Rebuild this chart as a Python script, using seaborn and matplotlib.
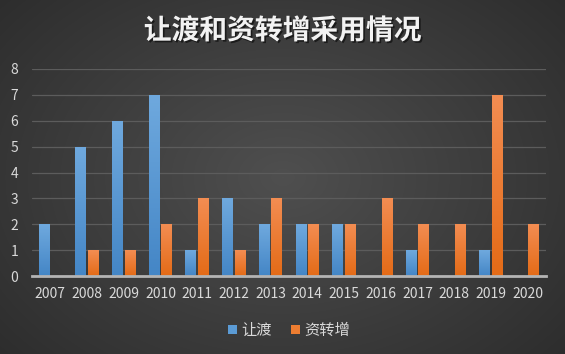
import numpy as np
import pandas as pd
import matplotlib
matplotlib.use("Agg")
import matplotlib.pyplot as plt
import matplotlib.patheffects as pe
import seaborn as sns
from matplotlib.colors import to_rgb

years = ["2007", "2008", "2009", "2010", "2011", "2012", "2013",
         "2014", "2015", "2016", "2017", "2018", "2019", "2020"]
rangdu = [2, 5, 6, 7, 1, 3, 2, 2, 2, 0, 1, 0, 1, 0]
zizhuan = [0, 1, 1, 2, 3, 1, 3, 2, 2, 3, 2, 2, 7, 2]
series_names = ["让渡", "资转增"]
title = "让渡和资转增采用情况"

df = pd.DataFrame({
    "year": years * 2,
    "value": rangdu + zizhuan,
    "series": [series_names[0]] * len(years) + [series_names[1]] * len(years),
})

sns.set_theme(style="dark")
plt.rcParams["font.family"] = ["Noto Sans CJK SC", "DejaVu Sans"]
plt.rcParams["patch.edgecolor"] = "none"

W, H = 565, 354
fig = plt.figure(figsize=(W / 100, H / 100), dpi=100)

# radial gradient background
bg = fig.add_axes([0, 0, 1, 1], zorder=-10)
yy, xx = np.mgrid[0:H, 0:W]
r = np.sqrt(((xx - W * 0.5) / (W * 0.65)) ** 2 + ((yy - H * 0.5) / (H * 0.75)) ** 2)
v = np.clip(0.31 - 0.13 * r, 0.15, 0.32)
bg.imshow(np.dstack([v, v, v]), aspect="auto", extent=[0, 1, 0, 1])
bg.axis("off")

ax = fig.add_axes([32 / W, 1 - 276 / H, (546 - 32) / W, (276 - 69) / H])
ax.set_facecolor("none")

palette = {series_names[0]: "#5b9bd5", series_names[1]: "#ed7d31"}
sns.barplot(data=df, x="year", y="value", hue="series", palette=palette,
            width=0.68, gap=0.12, ax=ax, saturation=1, legend=True,
            linewidth=0, edgecolor="none")

# gradients on bars
grads = {series_names[0]: ("#6fa9de", "#4486c6"), series_names[1]: ("#f38d52", "#e46b17")}
for container, name in zip(ax.containers, series_names):
    top, bot = (np.array(to_rgb(c)) for c in grads[name])
    for bar in container:
        hgt = bar.get_height()
        if hgt <= 0:
            bar.set_visible(False)
            continue
        t = np.linspace(0, 1, 64)[:, None]
        img = (top * (1 - t) + bot * t)[:, None, :]
        x0 = bar.get_x()
        im = ax.imshow(img, extent=[x0, x0 + bar.get_width(), 0, hgt],
                       aspect="auto", zorder=bar.get_zorder() + 0.1, origin="upper")
        im.set_clip_path(bar)

ax.set_xlim(-0.5, len(years) - 0.5)
ax.set_ylim(0, 8)
ax.set_yticks(range(0, 9))
ax.grid(axis="y", color="#5c5c5c", linewidth=0.9)
ax.grid(axis="x", visible=False)
ax.set_axisbelow(True)
for s in ["top", "right", "left"]:
    ax.spines[s].set_visible(False)
ax.spines["bottom"].set_color("#b4b4b4")
ax.spines["bottom"].set_linewidth(2)
ax.set_xlabel("")
ax.set_ylabel("")
ax.tick_params(axis="both", colors="#d9d9d9", labelsize=10, length=0)
ax.tick_params(axis="x", pad=8)
ax.yaxis.set_tick_params(pad=10)

leg = ax.legend(loc="upper center", bbox_to_anchor=(0.5, -0.155), ncol=2,
                frameon=False, handlelength=0.6, handleheight=0.6,
                handletextpad=0.3, columnspacing=1.2, fontsize=11)
for t in leg.get_texts():
    t.set_color("#d9d9d9")
for h in leg.legend_handles:
    h.set_edgecolor("none")

fig.text(0.5, 1 - 31 / H, title, ha="center", va="center", color="#f2f2f2",
         fontsize=20, fontweight="bold",
         path_effects=[pe.withSimplePatchShadow(offset=(1.2, -1.2),
                                                shadow_rgbFace="black", alpha=0.55)])

fig.savefig("out.png", dpi=100)
